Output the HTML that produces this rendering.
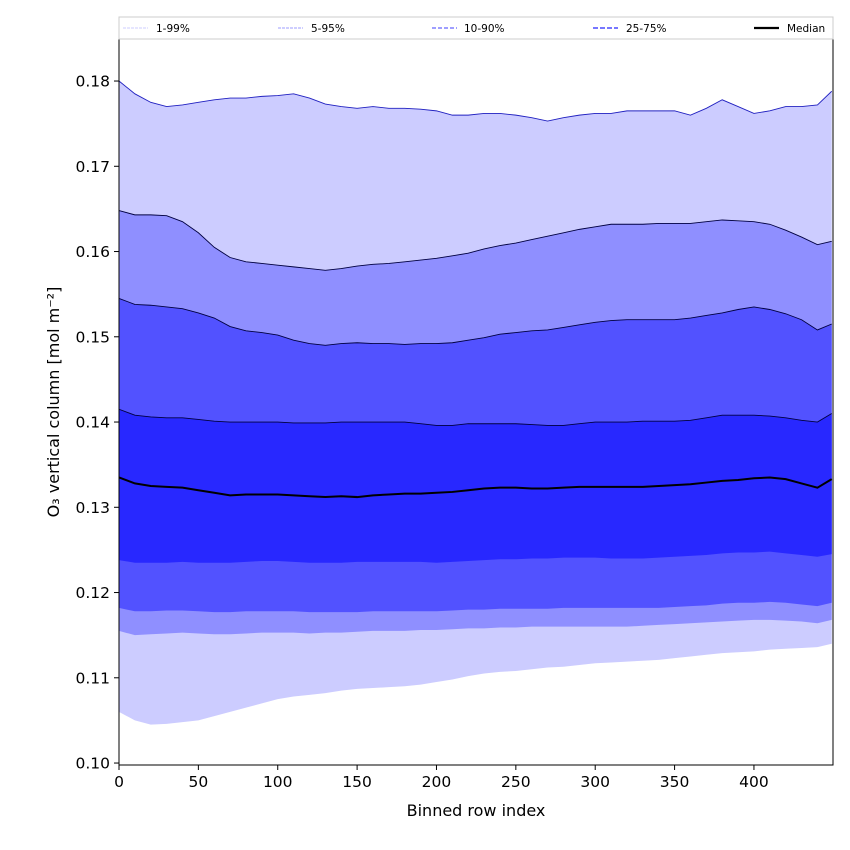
<!DOCTYPE html>
<html><head><meta charset="utf-8"><style>
body{margin:0;background:#fff}
svg{display:block;font-family:"DejaVu Sans","Liberation Sans",sans-serif}
</style></head><body>
<svg id="chart" width="850" height="850" viewBox="0 0 850 850" xmlns="http://www.w3.org/2000/svg">
<rect width="850" height="850" fill="#fff"/>
<g id="bands"></g>
<g id="axes"></g>
<g>
<rect x="119" y="17" width="714" height="22" fill="#fff" stroke="#ccc"/>
<g><line x1="123" y1="28" x2="148" y2="28" stroke="#ccccff" stroke-dasharray="3,1"/><text x="156" y="32" font-size="10.5">1-99%</text></g>
<g><line x1="278" y1="28" x2="303" y2="28" stroke="#9d9dff" stroke-dasharray="3,1"/><text x="311" y="32" font-size="10.5">5-95%</text></g>
<g><line x1="432" y1="28" x2="457" y2="28" stroke="#6666ff" stroke-width="1.2" stroke-dasharray="4,2"/><text x="464" y="32" font-size="10.5">10-90%</text></g>
<g><line x1="593" y1="28" x2="618" y2="28" stroke="#7777ff" stroke-width="2" stroke-dasharray="5,2"/><text x="626" y="32" font-size="10.5">25-75%</text></g>
<g><line x1="754" y1="28" x2="779" y2="28" stroke="#000" stroke-width="2.2"/><text x="787" y="32" font-size="10.5">Median</text></g>
</g>
</svg>
<script>
const xIdx=[0,10,20,30,40,50,60,70,80,90,100,110,120,130,140,150,160,170,180,190,200,210,220,230,240,250,260,270,280,290,300,310,320,330,340,350,360,370,380,390,400,410,420,430,440,449];
const p99=[0.180,0.1785,0.1775,0.177,0.1772,0.1775,0.1778,0.178,0.178,0.1782,0.1783,0.1785,0.178,0.1773,0.177,0.1768,0.177,0.1768,0.1768,0.1767,0.1765,0.176,0.176,0.1762,0.1762,0.176,0.1757,0.1753,0.1757,0.176,0.1762,0.1762,0.1765,0.1765,0.1765,0.1765,0.176,0.1768,0.1778,0.177,0.1762,0.1765,0.177,0.177,0.1772,0.1788];
const p95=[0.1648,0.1643,0.1643,0.1642,0.1635,0.1622,0.1605,0.1593,0.1588,0.1586,0.1584,0.1582,0.158,0.1578,0.158,0.1583,0.1585,0.1586,0.1588,0.159,0.1592,0.1595,0.1598,0.1603,0.1607,0.161,0.1614,0.1618,0.1622,0.1626,0.1629,0.1632,0.1632,0.1632,0.1633,0.1633,0.1633,0.1635,0.1637,0.1636,0.1635,0.1632,0.1625,0.1617,0.1608,0.1612];
const p90=[0.1545,0.1538,0.1537,0.1535,0.1533,0.1528,0.1522,0.1512,0.1507,0.1505,0.1502,0.1496,0.1492,0.149,0.1492,0.1493,0.1492,0.1492,0.1491,0.1492,0.1492,0.1493,0.1496,0.1499,0.1503,0.1505,0.1507,0.1508,0.1511,0.1514,0.1517,0.1519,0.152,0.152,0.152,0.152,0.1522,0.1525,0.1528,0.1532,0.1535,0.1532,0.1527,0.152,0.1508,0.1515];
const p75=[0.1415,0.1408,0.1406,0.1405,0.1405,0.1403,0.1401,0.14,0.14,0.14,0.14,0.1399,0.1399,0.1399,0.14,0.14,0.14,0.14,0.14,0.1398,0.1396,0.1396,0.1398,0.1398,0.1398,0.1398,0.1397,0.1396,0.1396,0.1398,0.14,0.14,0.14,0.1401,0.1401,0.1401,0.1402,0.1405,0.1408,0.1408,0.1408,0.1407,0.1405,0.1402,0.14,0.141];
const median=[0.1335,0.1328,0.1325,0.1324,0.1323,0.132,0.1317,0.1314,0.1315,0.1315,0.1315,0.1314,0.1313,0.1312,0.1313,0.1312,0.1314,0.1315,0.1316,0.1316,0.1317,0.1318,0.132,0.1322,0.1323,0.1323,0.1322,0.1322,0.1323,0.1324,0.1324,0.1324,0.1324,0.1324,0.1325,0.1326,0.1327,0.1329,0.1331,0.1332,0.1334,0.1335,0.1333,0.1328,0.1323,0.1333];
const p25=[0.1238,0.1235,0.1235,0.1235,0.1236,0.1235,0.1235,0.1235,0.1236,0.1237,0.1237,0.1236,0.1235,0.1235,0.1235,0.1236,0.1236,0.1236,0.1236,0.1236,0.1235,0.1236,0.1237,0.1238,0.1239,0.1239,0.124,0.124,0.1241,0.1241,0.1241,0.124,0.124,0.124,0.1241,0.1242,0.1243,0.1244,0.1246,0.1247,0.1247,0.1248,0.1246,0.1244,0.1242,0.1245];
const p10=[0.1182,0.1178,0.1178,0.1179,0.1179,0.1178,0.1177,0.1177,0.1178,0.1178,0.1178,0.1178,0.1177,0.1177,0.1177,0.1177,0.1178,0.1178,0.1178,0.1178,0.1178,0.1179,0.118,0.118,0.1181,0.1181,0.1181,0.1181,0.1182,0.1182,0.1182,0.1182,0.1182,0.1182,0.1182,0.1183,0.1184,0.1185,0.1187,0.1188,0.1188,0.1189,0.1188,0.1186,0.1184,0.1188];
const p5=[0.1155,0.115,0.1151,0.1152,0.1153,0.1152,0.1151,0.1151,0.1152,0.1153,0.1153,0.1153,0.1152,0.1153,0.1153,0.1154,0.1155,0.1155,0.1155,0.1156,0.1156,0.1157,0.1158,0.1158,0.1159,0.1159,0.116,0.116,0.116,0.116,0.116,0.116,0.116,0.1161,0.1162,0.1163,0.1164,0.1165,0.1166,0.1167,0.1168,0.1168,0.1167,0.1166,0.1164,0.1168];
const p1=[0.1060,0.1050,0.1045,0.1046,0.1048,0.1050,0.1055,0.1060,0.1065,0.1070,0.1075,0.1078,0.1080,0.1082,0.1085,0.1087,0.1088,0.1089,0.109,0.1092,0.1095,0.1098,0.1102,0.1105,0.1107,0.1108,0.111,0.1112,0.1113,0.1115,0.1117,0.1118,0.1119,0.112,0.1121,0.1123,0.1125,0.1127,0.1129,0.113,0.1131,0.1133,0.1134,0.1135,0.1136,0.114];
const xTicks=[0,50,100,150,200,250,300,350,400];
const yTicks=[0.10,0.11,0.12,0.13,0.14,0.15,0.16,0.17,0.18];

const L=119,R=833,T=39,B=765;
const xMin=0,xMax=449.8,yMin=0.09977,yMax=0.18493;
const sx=v=>L+(v-xMin)/(xMax-xMin)*(R-L);
const sy=v=>B-(v-yMin)/(yMax-yMin)*(B-T);
const NS='http://www.w3.org/2000/svg';
const bands=document.getElementById('bands'), axes=document.getElementById('axes');
function mk(tag,attrs,parent){const e=document.createElementNS(NS,tag);for(const k in attrs)e.setAttribute(k,attrs[k]);parent.appendChild(e);return e;}
function line(arr){return arr.map((v,i)=>sx(xIdx[i]).toFixed(2)+','+sy(v).toFixed(2)).join(' L');}
function bandPath(lo,hi){
  let d='M'+line(hi);
  for(let i=lo.length-1;i>=0;i--)d+=' L'+sx(xIdx[i]).toFixed(2)+','+sy(lo[i]).toFixed(2);
  return d+' Z';
}
const bandDefs=[[p1,p99,'#ccccff','band-1-99','#2020c0'],[p5,p95,'#8f8fff','band-5-95','#000040'],[p10,p90,'#5252ff','band-10-90','#000040'],[p25,p75,'#2828ff','band-25-75','#000040']];
bandDefs.forEach(b=>{
  const p=mk('path',{d:bandPath(b[0],b[1]),fill:b[2]},bands);
  
  
  const u=mk('path',{d:'M'+line(b[1]),fill:'none',stroke:b[4],'stroke-width':0.9},bands);
  
  
});
const m=mk('path',{d:'M'+line(median),fill:'none',stroke:'#000','stroke-width':2},bands);



const frame=mk('rect',{x:L,y:T,width:R-L,height:B-T,fill:'none',stroke:'#000','stroke-width':1},axes);


xTicks.forEach(t=>{
  const x=sx(t);
  const tk=mk('line',{x1:x,y1:B,x2:x,y2:B+5,stroke:'#000'},axes);
  
  
  const tx=mk('text',{x:x,y:B+22,'font-size':15.5,'text-anchor':'middle'},axes);
  tx.textContent=t;
  
  
});
yTicks.forEach(t=>{
  const y=sy(t);
  const tk=mk('line',{x1:L-5,y1:y,x2:L,y2:y,stroke:'#000'},axes);
  
  
  const tx=mk('text',{x:L-9,y:y+5.5,'font-size':15.5,'text-anchor':'end'},axes);
  tx.textContent=t.toFixed(2);
  
  
});
const xl=mk('text',{x:(L+R)/2,y:816,'font-size':16,'text-anchor':'middle'},axes);
xl.textContent='Binned row index';


const yl=mk('text',{x:0,y:0,'font-size':16,'text-anchor':'middle',transform:'translate(59,402) rotate(-90)'},axes);
yl.textContent='O₃ vertical column [mol m⁻²]';


</script>
</body></html>
